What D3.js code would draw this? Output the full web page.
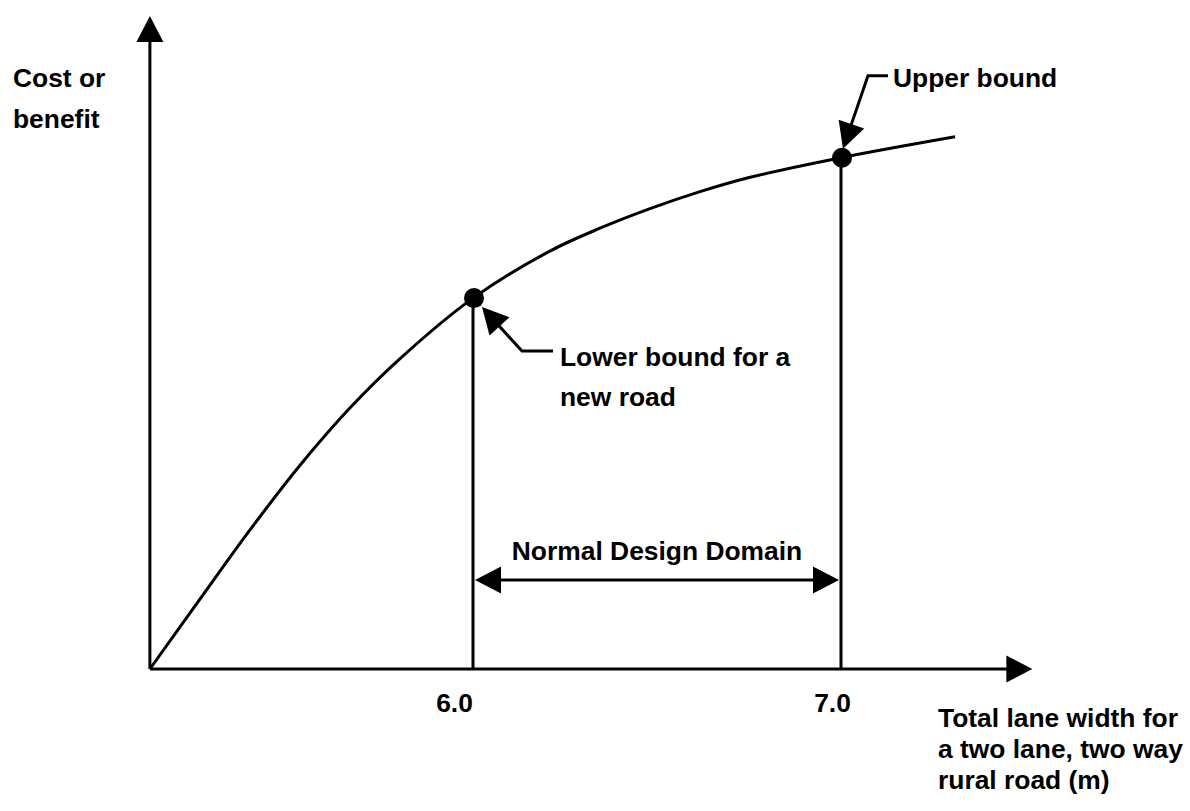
<!DOCTYPE html>
<html>
<head>
<meta charset="utf-8">
<script src="https://cdn.jsdelivr.net/npm/d3@7"></script>
<style>
  html, body { margin: 0; padding: 0; background: #fff; }
  svg { display: block; }
  text { font-family: "Liberation Sans", Arial, sans-serif; font-weight: bold; font-size: 26.4px; fill: #000; }
</style>
</head>
<body>
<div id="chart"></div>
<script>
// Lane width (m) against cost or benefit (arbitrary units, 0..1)
const laneWidth = [5.122, 5.258, 5.394, 5.530, 5.666, 5.801, 6.0, 6.209, 6.345, 6.481, 6.617, 6.753, 7.0, 7.31];
const costBenefit = [0, 0.107, 0.213, 0.312, 0.400, 0.475, 0.568, 0.640, 0.675, 0.705, 0.731, 0.753, 0.783, 0.815];

// Design bounds and tick labels
const boundWidths = [6.0, 7.0];
const tickValues = [6.0, 7.0];
const axisRange = [5.122, 7.52];

const yLabel = ['Cost or', 'benefit'];
const xLabel = ['Total lane width for', 'a two lane, two way', 'rural road (m)'];
const upperLabel = 'Upper bound';
const lowerLabel = ['Lower bound for a', 'new road'];
const domainLabel = 'Normal Design Domain';

const W = 1190, H = 811;
const STROKE = 3;

const svg = d3.select('#chart').append('svg')
    .attr('width', W)
    .attr('height', H)
    .attr('viewBox', `0 0 ${W} ${H}`);

const x = d3.scaleLinear().domain([6, 7]).range([473, 841]);
const y = d3.scaleLinear().domain([0, 1]).range([669, 16]);

// Draw a filled arrow head with its tip at (tx, ty), pointing along (dx, dy)
function arrowHead(g, tx, ty, dx, dy, len = 26, half = 13.5) {
    const n = Math.hypot(dx, dy);
    const ux = dx / n, uy = dy / n;
    const bx = tx - ux * len, by = ty - uy * len;
    g.append('path')
        .attr('d', `M${tx},${ty}L${bx - uy * half},${by + ux * half}L${bx + uy * half},${by - ux * half}Z`)
        .attr('fill', '#000');
    return [bx + ux * 4, by + uy * 4];
}

// Line ending in an arrow head
function arrowLine(g, pts) {
    const n = pts.length;
    const [tx, ty] = pts[n - 1];
    const [px, py] = pts[n - 2];
    const base = arrowHead(g, tx, ty, tx - px, ty - py);
    const linePts = pts.slice(0, n - 1).concat([base]);
    g.append('path')
        .attr('d', d3.line()(linePts))
        .attr('fill', 'none')
        .attr('stroke', '#000')
        .attr('stroke-width', STROKE);
}

const g = svg.append('g');

// Axes
const x0 = x(axisRange[0]);
arrowLine(g, [[x0, y(0)], [x0, y(1)]]);
arrowLine(g, [[x0, y(0)], [x(axisRange[1]), y(0)]]);

// Tick labels
const xAxis = d3.axisBottom(x)
    .tickValues(tickValues)
    .tickFormat(d3.format('.1f'))
    .tickSize(0)
    .tickPadding(24);
const axisG = g.append('g')
    .attr('transform', `translate(0,${y(0)})`)
    .call(xAxis);
axisG.select('.domain').remove();
axisG.selectAll('text')
    .attr('font-family', null)
    .attr('font-size', null)
    .attr('dx', d => d === 6 ? -19 : -9);

// Curve
const curveData = laneWidth.map((d, i) => [d, costBenefit[i]]);
const line = d3.line()
    .x(d => x(d[0]))
    .y(d => y(d[1]))
    .curve(d3.curveCatmullRom.alpha(0.5));
g.append('path')
    .datum(curveData)
    .attr('d', line)
    .attr('fill', 'none')
    .attr('stroke', '#000')
    .attr('stroke-width', STROKE);

// Bounds: vertical lines and dots on the curve
const bounds = boundWidths.map(w => ({ w, v: costBenefit[laneWidth.indexOf(w)] }));
g.selectAll('.bound')
    .data(bounds)
    .join('line')
    .attr('class', 'bound')
    .attr('x1', d => x(d.w)).attr('x2', d => x(d.w))
    .attr('y1', y(0)).attr('y2', d => y(d.v))
    .attr('stroke', '#000')
    .attr('stroke-width', STROKE);
g.selectAll('.dot')
    .data(bounds)
    .join('circle')
    .attr('class', 'dot')
    .attr('cx', d => x(d.w) + 1)
    .attr('cy', d => y(d.v))
    .attr('r', 10)
    .attr('fill', '#000');

// Normal design domain double arrow
const ay = 580;
const aL = x(boundWidths[0]) + 2, aR = x(boundWidths[1]) - 2;
const bl = arrowHead(g, aL, ay, -1, 0);
const br = arrowHead(g, aR, ay, 1, 0);
g.append('line')
    .attr('x1', bl[0]).attr('x2', br[0])
    .attr('y1', ay).attr('y2', ay)
    .attr('stroke', '#000')
    .attr('stroke-width', STROKE);
g.append('text')
    .attr('x', (aL + aR) / 2)
    .attr('y', 560)
    .attr('text-anchor', 'middle')
    .text(domainLabel);

// Leader arrows to the bounds
const lo = { x: x(bounds[0].w), y: y(bounds[0].v) };
const up = { x: x(bounds[1].w), y: y(bounds[1].v) };
arrowLine(g, [[lo.x + 80, lo.y + 53], [lo.x + 49, lo.y + 53], [lo.x + 9, lo.y + 9]]);
arrowLine(g, [[up.x + 47, up.y - 82], [up.x + 27, up.y - 82], [up.x + 2, up.y - 9]]);

// Text labels
function multiline(lines, x0, y0, dy) {
    g.append('text')
        .selectAll('tspan')
        .data(lines)
        .join('tspan')
        .attr('x', x0)
        .attr('y', (d, i) => y0 + i * dy)
        .text(d => d);
}
multiline(yLabel, 13, 87, 41);
multiline(lowerLabel, 560, 366, 40);
multiline([upperLabel], 893, 87, 0);
multiline(xLabel, 938, 727, 31);
</script>
</body>
</html>
